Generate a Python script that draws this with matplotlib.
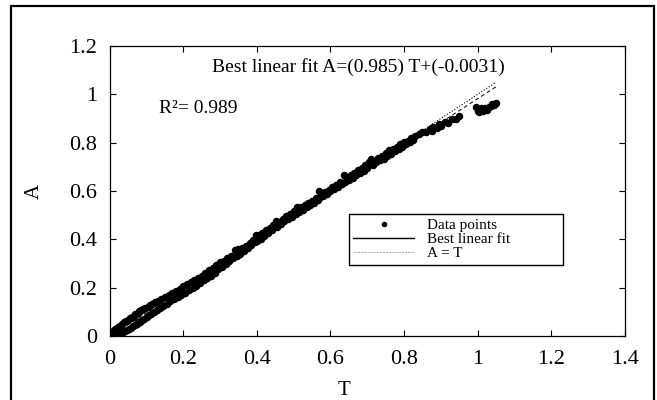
import numpy as np
import matplotlib
matplotlib.use('Agg')
import matplotlib.pyplot as plt
from matplotlib.lines import Line2D
from matplotlib.patches import Rectangle

plt.rcParams['font.family'] = ['Liberation Serif', 'DejaVu Serif']

# data (T, A)
T_vals = [0.005, 0.008, 0.012, 0.015, 0.018, 0.022, 0.025, 0.028, 0.030, 0.034,
          0.036, 0.040, 0.042, 0.045, 0.048, 0.050, 0.053, 0.056, 0.058, 0.060,
          0.063, 0.066, 0.068, 0.070, 0.073, 0.076, 0.078, 0.080, 0.083, 0.086,
          0.088, 0.090, 0.093, 0.096, 0.100, 0.103, 0.106, 0.110, 0.113, 0.116,
          0.120, 0.124, 0.128, 0.132, 0.136, 0.140, 0.145, 0.150, 0.155, 0.160,
          0.165, 0.170, 0.175, 0.180, 0.185, 0.190, 0.195, 0.200, 0.205, 0.210,
          0.215, 0.220, 0.225, 0.230, 0.235, 0.240, 0.245, 0.250, 0.255, 0.260,
          0.265, 0.270, 0.275, 0.280, 0.285, 0.290, 0.295, 0.300, 0.305, 0.310,
          0.315, 0.320, 0.325, 0.330, 0.335, 0.340, 0.345, 0.350, 0.355, 0.360,
          0.365, 0.370, 0.375, 0.380, 0.385, 0.390, 0.395, 0.397, 0.400, 0.405,
          0.410, 0.415, 0.420, 0.425, 0.430, 0.435, 0.440, 0.445, 0.451, 0.455,
          0.460, 0.465, 0.470, 0.475, 0.480, 0.485, 0.490, 0.495, 0.500, 0.509,
          0.505, 0.510, 0.515, 0.520, 0.525, 0.530, 0.535, 0.540, 0.545, 0.550,
          0.555, 0.560, 0.565, 0.569, 0.570, 0.575, 0.580, 0.585, 0.590, 0.595,
          0.600, 0.605, 0.610, 0.615, 0.620, 0.625, 0.630, 0.637, 0.640, 0.645,
          0.650, 0.655, 0.660, 0.665, 0.670, 0.675, 0.680, 0.685, 0.690, 0.695,
          0.700, 0.705, 0.711, 0.715, 0.720, 0.725, 0.730, 0.735, 0.740, 0.745,
          0.750, 0.755, 0.760, 0.765, 0.770, 0.775, 0.780, 0.785, 0.790, 0.795,
          0.800, 0.805, 0.810, 0.815, 0.820, 0.825, 0.830, 0.840, 0.850, 0.860,
          0.870, 0.875, 0.880, 0.890, 0.895, 0.900, 0.910, 0.920, 0.930, 0.940,
          0.950, 0.995, 1.000, 1.005, 1.010, 1.015, 1.020, 1.025, 1.030, 1.035,
          1.040, 1.045, 1.050]
A_vals = [0.006, 0.022, 0.000, 0.030, 0.004, 0.036, 0.008, 0.042, 0.012, 0.050,
          0.016, 0.056, 0.020, 0.062, 0.026, 0.068, 0.030, 0.074, 0.034, 0.080,
          0.040, 0.084, 0.044, 0.090, 0.050, 0.096, 0.056, 0.102, 0.060, 0.106,
          0.066, 0.112, 0.072, 0.116, 0.080, 0.122, 0.086, 0.128, 0.092, 0.134,
          0.100, 0.140, 0.108, 0.146, 0.116, 0.154, 0.124, 0.162, 0.134, 0.170,
          0.144, 0.178, 0.154, 0.186, 0.162, 0.194, 0.170, 0.206, 0.180, 0.216,
          0.190, 0.222, 0.198, 0.232, 0.208, 0.242, 0.220, 0.250, 0.230, 0.262,
          0.240, 0.272, 0.250, 0.282, 0.260, 0.292, 0.276, 0.308, 0.284, 0.310,
          0.300, 0.324, 0.310, 0.332, 0.324, 0.354, 0.330, 0.360, 0.340, 0.364,
          0.352, 0.374, 0.364, 0.384, 0.378, 0.398, 0.390, 0.420, 0.394, 0.418,
          0.402, 0.426, 0.414, 0.438, 0.426, 0.448, 0.438, 0.460, 0.476, 0.452,
          0.472, 0.462, 0.486, 0.474, 0.496, 0.484, 0.506, 0.494, 0.516, 0.534,
          0.504, 0.522, 0.512, 0.534, 0.522, 0.540, 0.534, 0.550, 0.544, 0.560,
          0.552, 0.572, 0.562, 0.602, 0.570, 0.586, 0.578, 0.596, 0.588, 0.606,
          0.598, 0.616, 0.608, 0.626, 0.618, 0.636, 0.628, 0.668, 0.638, 0.658,
          0.646, 0.666, 0.654, 0.676, 0.666, 0.688, 0.676, 0.696, 0.684, 0.706,
          0.696, 0.718, 0.734, 0.708, 0.726, 0.718, 0.736, 0.730, 0.744, 0.734,
          0.756, 0.746, 0.770, 0.754, 0.774, 0.764, 0.782, 0.774, 0.796, 0.782,
          0.802, 0.794, 0.808, 0.802, 0.820, 0.812, 0.828, 0.834, 0.844, 0.846,
          0.858, 0.850, 0.866, 0.860, 0.876, 0.870, 0.886, 0.882, 0.896, 0.896,
          0.910, 0.948, 0.932, 0.928, 0.942, 0.932, 0.944, 0.936, 0.948, 0.950,
          0.958, 0.956, 0.964]

fit_slope = 0.985
fit_icept = -0.0031
line_T = [0.0, 1.05]

x_ticks = [0, 0.2, 0.4, 0.6, 0.8, 1, 1.2, 1.4]
x_tick_labels = ['0', '0.2', '0.4', '0.6', '0.8', '1', '1.2', '1.4']
y_ticks = [0, 0.2, 0.4, 0.6, 0.8, 1, 1.2]
y_tick_labels = ['0', '0.2', '0.4', '0.6', '0.8', '1', '1.2']

fig = plt.figure(figsize=(6.57, 4.0), dpi=100)
ax = fig.add_axes([0.167, 0.16, 0.784, 0.725])

# outer frame round the figure
fig.patches.append(Rectangle((0.017, -0.02), 0.978, 1.005, transform=fig.transFigure,
                             fill=False, edgecolor='black', linewidth=1.6))

ax.plot(T_vals, A_vals, 'o', color='black', markersize=5.4, markeredgewidth=0)

fit_A = [fit_slope * t + fit_icept for t in line_T]
ax.plot(line_T, fit_A, '--', color='black', linewidth=0.7, dashes=(4, 3))
ax.plot(line_T, line_T, ':', color='black', linewidth=0.8)

ax.set_xlim(0, 1.4)
ax.set_ylim(0, 1.2)
ax.set_xticks(x_ticks)
ax.set_xticklabels(x_tick_labels)
ax.set_yticks(y_ticks)
ax.set_yticklabels(y_tick_labels)
ax.tick_params(direction='in', top=True, right=True, length=4, width=0.8,
               labelsize=16, pad=9)
ax.tick_params(axis='x', pad=10)
for s in ax.spines.values():
    s.set_linewidth(0.9)

ax.set_xlabel('T', fontsize=15)
ax.set_ylabel('A', fontsize=15)
ax.xaxis.set_label_coords(0.455, -0.155)
ax.yaxis.set_label_coords(-0.128, 0.5)

ax.text(0.675, 1.113, 'Best linear fit A=(0.985) T+(-0.0031)', fontsize=14,
        ha='center', va='center')
ax.text(0.134, 0.94, 'R²= 0.989', fontsize=14, ha='left', va='center')

handles = [Line2D([], [], marker='o', linestyle='none', color='black', markersize=3),
           Line2D([], [], color='black', linewidth=1.0),
           Line2D([], [], color='black', linestyle=':', linewidth=0.4)]
leg = ax.legend(handles, ['Data points', 'Best linear fit', 'A = T'],
                loc='upper left', bbox_to_anchor=(0.464, 0.27, 0.416, 0.15),
                mode='expand', fontsize=11, handlelength=4.0, handletextpad=0.8,
                labelspacing=0.02, borderpad=0.3, borderaxespad=0,
                fancybox=False, framealpha=1)
leg.get_frame().set_edgecolor('black')
leg.get_frame().set_linewidth(1.0)

fig.savefig('out.png', dpi=100)
